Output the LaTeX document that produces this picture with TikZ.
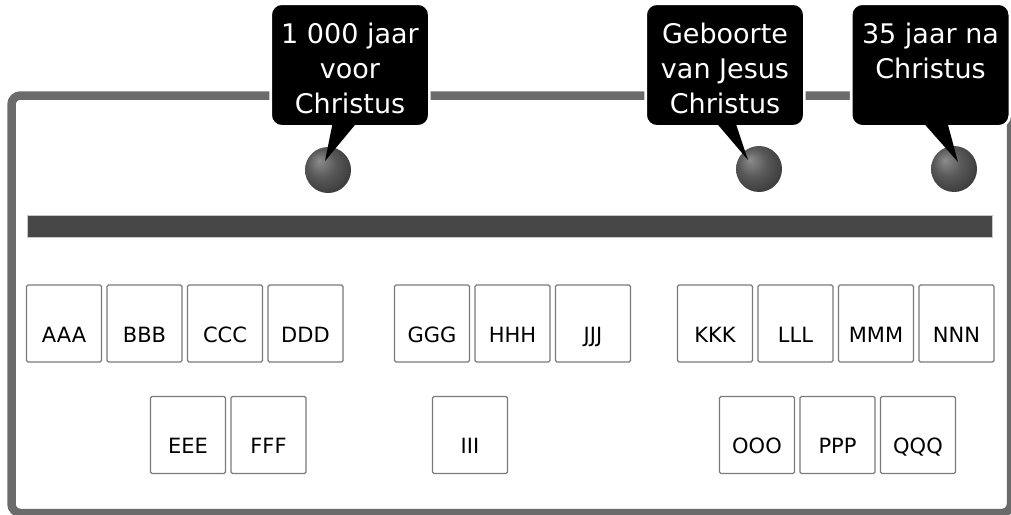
\documentclass[tikz,border=0pt]{standalone}
\usepackage{fontspec}
\setmainfont{DejaVu Sans}
\usetikzlibrary{positioning}
\definecolor{framegray}{HTML}{6B6B6B}
\definecolor{bargray}{HTML}{474747}
\definecolor{cellgray}{HTML}{7A7A7A}
\pgfdeclareradialshading{knobshade}{\pgfpoint{-10bp}{10bp}}{color(0bp)=(black!45); color(15bp)=(black!65); color(35bp)=(black!80); color(50bp)=(black!88)}
\begin{document}
\begin{tikzpicture}[x=1pt,y=-1pt]
  \tikzstyle{cell}=[draw=cellgray, line width=1.2pt, rounded corners=1.5pt, minimum width=75pt, minimum height=77pt, inner sep=0pt, outer sep=0pt, text height=37pt, text depth=0pt, font=\fontsize{21}{25}\selectfont]
  \tikzstyle{knob}=[circle, minimum size=46pt, inner sep=0pt, shading=knobshade]
  \tikzstyle{bubble}=[fill=black, draw=white, line width=2.6pt, rounded corners=11pt, minimum width=158.6pt, minimum height=122.6pt, inner sep=0pt, outer sep=0pt]
  \tikzstyle{calltext}=[text=white, align=center, inner sep=0pt, font=\fontsize{27}{35}\selectfont]
  \useasboundingbox (0,0) rectangle (1011,514);
  \draw[framegray, line width=8.5pt, rounded corners=9pt] (11.5,95.5) rectangle (1011,513);
  \draw[gray!45, line width=0.6pt, fill=bargray] (27,215) rectangle (992,237);
  \node[cell] (aaa) at (64,323.5) {AAA};
  \node[cell, right=5.5pt of aaa] (bbb) {BBB};
  \node[cell, right=5.5pt of bbb] (ccc) {CCC};
  \node[cell, right=5.5pt of ccc] (ddd) {DDD};
  \node[cell] (eee) at (188,435) {EEE};
  \node[cell, right=5.5pt of eee] (fff) {FFF};
  \node[cell] (ggg) at (432,323.5) {GGG};
  \node[cell, right=5.5pt of ggg] (hhh) {HHH};
  \node[cell, right=5.5pt of hhh] (jjj) {JJJ};
  \node[cell] (iii) at (470,435) {III};
  \node[cell] (kkk) at (715,323.5) {KKK};
  \node[cell, right=5.5pt of kkk] (lll) {LLL};
  \node[cell, right=5.5pt of lll] (mmm) {MMM};
  \node[cell, right=5.5pt of mmm] (nnn) {NNN};
  \node[cell] (ooo) at (757,435) {OOO};
  \node[cell, right=5.5pt of ooo] (ppp) {PPP};
  \node[cell, right=5.5pt of ppp] (qqq) {QQQ};
  \node[knob] (d1) at (328,170) {};
  \node[knob] (d2) at (759,169) {};
  \node[knob] (d3) at (954,169) {};
  \node[bubble] (c1) at (350,65) {};
  \node[calltext, below=19pt of c1.north] (t1) {1 000 jaar\\voor\\Christus};
  \fill ([xshift=-17pt,yshift=5pt]c1.south) -- ([xshift=-3pt,yshift=9pt]d1.center) -- ([xshift=8pt,yshift=5pt]c1.south) -- cycle;
  \node[bubble] (c2) at (725,65) {};
  \node[calltext, below=19pt of c2.north] (t2) {Geboorte\\van Jesus\\Christus};
  \fill ([xshift=-10pt,yshift=5pt]c2.south) -- ([xshift=-11pt,yshift=9pt]d2.center) -- ([xshift=10pt,yshift=5pt]c2.south) -- cycle;
  \node[bubble] (c3) at (930.5,65) {};
  \node[calltext, below=19pt of c3.north] (t3) {35 jaar na\\Christus};
  \fill ([xshift=-8.5pt,yshift=5pt]c3.south) -- ([xshift=4pt,yshift=7pt]d3.center) -- ([xshift=16.5pt,yshift=5pt]c3.south) -- cycle;
\end{tikzpicture}
\end{document}
